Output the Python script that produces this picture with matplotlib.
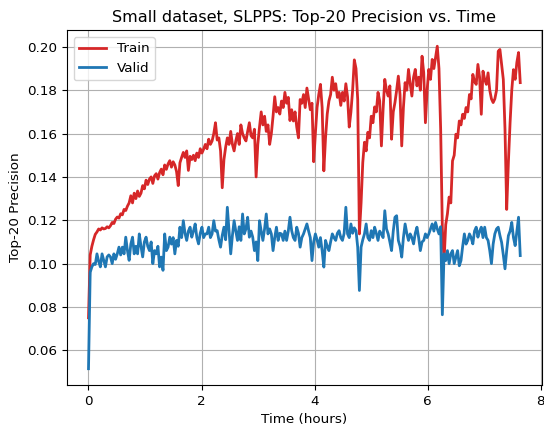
import matplotlib
matplotlib.use("Agg")
import matplotlib.pyplot as plt
import numpy as np

run_hours = 7.64

train_prec = [
    0.075, 0.104, 0.108, 0.111, 0.1135, 0.1146, 0.116, 0.1155, 0.1165, 0.116,
    0.1162, 0.117, 0.1165, 0.1175, 0.119, 0.1185, 0.1205, 0.1215, 0.121, 0.123,
    0.1225, 0.125, 0.1245, 0.1265, 0.128, 0.1313, 0.128, 0.1325, 0.130, 0.1335,
    0.131, 0.1325, 0.136, 0.1345, 0.1385, 0.1365, 0.139, 0.140, 0.137, 0.1405,
    0.1415, 0.139, 0.142, 0.1436, 0.141, 0.1455, 0.1435, 0.146, 0.1475, 0.1445,
    0.147, 0.1455, 0.1425, 0.136, 0.1465, 0.149, 0.1513, 0.149, 0.152, 0.143,
    0.1495, 0.148, 0.150, 0.1475, 0.151, 0.149, 0.153, 0.151, 0.1528, 0.155,
    0.153, 0.1574, 0.155, 0.1566, 0.160, 0.165, 0.157, 0.158, 0.152, 0.135,
    0.148, 0.1537, 0.158, 0.155, 0.161, 0.155, 0.152, 0.1566, 0.160, 0.155,
    0.164, 0.160, 0.158, 0.1566, 0.161, 0.165, 0.159, 0.158, 0.162, 0.140,
    0.155, 0.163, 0.170, 0.164, 0.168, 0.161, 0.164, 0.155, 0.160, 0.168,
    0.177, 0.170, 0.172, 0.169, 0.175, 0.172, 0.179, 0.174, 0.1767, 0.166,
    0.171, 0.1658, 0.170, 0.163, 0.158, 0.1757, 0.174, 0.178, 0.172, 0.181,
    0.176, 0.171, 0.174, 0.147, 0.160, 0.172, 0.178, 0.1827, 0.172, 0.1428,
    0.158, 0.169, 0.175, 0.178, 0.186, 0.180, 0.183, 0.1767, 0.179, 0.173,
    0.179, 0.175, 0.183, 0.177, 0.163, 0.170, 0.180, 0.194, 0.190, 0.1758,
    0.1137, 0.128, 0.1467, 0.156, 0.152, 0.1606, 0.158, 0.168, 0.165, 0.1723,
    0.170, 0.179, 0.175, 0.1543, 0.1712, 0.185, 0.180, 0.1773, 0.182, 0.1574,
    0.170, 0.1743, 0.180, 0.1865, 0.178, 0.1543, 0.172, 0.1835, 0.180, 0.1896,
    0.183, 0.1773, 0.186, 0.1896, 0.182, 0.186, 0.180, 0.1957, 0.188, 0.165,
    0.180, 0.1896, 0.185, 0.1942, 0.190, 0.195, 0.2003, 0.190, 0.162, 0.116,
    0.1014, 0.118, 0.123, 0.1307, 0.128, 0.1474, 0.150, 0.1597, 0.158, 0.1658,
    0.164, 0.1689, 0.167, 0.172, 0.170, 0.178, 0.176, 0.1873, 0.184, 0.1827,
    0.1919, 0.186, 0.1689, 0.1888, 0.185, 0.1827, 0.188, 0.180, 0.176, 0.1743,
    0.176, 0.180, 0.198, 0.1988, 0.192, 0.185, 0.162, 0.125, 0.1467, 0.165,
    0.180, 0.1895, 0.185, 0.1928, 0.1974, 0.1835,
]

valid_prec = [
    0.0515, 0.0960, 0.0985, 0.1000, 0.0996, 0.1045, 0.1010, 0.0985, 0.1045, 0.1015,
    0.0985, 0.1031, 0.1040, 0.1031, 0.1000, 0.1045, 0.1020, 0.1045, 0.1076, 0.1040,
    0.1076, 0.1045, 0.1122, 0.1060, 0.1015, 0.1090, 0.1122, 0.1045, 0.1080, 0.1045,
    0.1137, 0.1080, 0.1031, 0.1100, 0.1122, 0.1080, 0.1060, 0.1100, 0.1000, 0.1060,
    0.1045, 0.1080, 0.0985, 0.1030, 0.0969, 0.1137, 0.1060, 0.1076, 0.1122, 0.1090,
    0.1120, 0.1045, 0.1107, 0.1080, 0.1168, 0.1120, 0.1198, 0.1140, 0.1107, 0.1150,
    0.1168, 0.1122, 0.1150, 0.1183, 0.1120, 0.1091, 0.1140, 0.1168, 0.1120, 0.1137,
    0.1137, 0.1168, 0.1120, 0.1137, 0.1198, 0.1150, 0.1152, 0.1110, 0.1076, 0.1130,
    0.1168, 0.1110, 0.1260, 0.1150, 0.1045, 0.1130, 0.1198, 0.1150, 0.1107, 0.1170,
    0.1107, 0.1229, 0.1137, 0.1160, 0.1214, 0.1122, 0.1150, 0.1122, 0.1060, 0.1100,
    0.1014, 0.1198, 0.1150, 0.1107, 0.1160, 0.1229, 0.1137, 0.1160, 0.1137, 0.1060,
    0.1120, 0.1168, 0.1107, 0.1140, 0.1137, 0.1107, 0.1150, 0.1107, 0.1150, 0.1214,
    0.1152, 0.1120, 0.1107, 0.1168, 0.1140, 0.1076, 0.1120, 0.1137, 0.1160, 0.1183,
    0.1150, 0.1120, 0.1014, 0.1100, 0.1137, 0.1110, 0.1076, 0.1120, 0.1060, 0.0984,
    0.1107, 0.1080, 0.1060, 0.1100, 0.1137, 0.1120, 0.1107, 0.1140, 0.1152, 0.1120,
    0.1107, 0.1140, 0.1260, 0.1137, 0.1120, 0.1183, 0.1140, 0.1165, 0.1152, 0.1076,
    0.0876, 0.1076, 0.1110, 0.1137, 0.1183, 0.1120, 0.1107, 0.1152, 0.1120, 0.1168,
    0.1140, 0.1107, 0.1150, 0.1137, 0.1120, 0.1244, 0.1160, 0.1137, 0.1100, 0.1060,
    0.1150, 0.1214, 0.1221, 0.1107, 0.1080, 0.1030, 0.1120, 0.1183, 0.1140, 0.1107,
    0.1137, 0.1120, 0.1091, 0.1140, 0.1168, 0.1120, 0.1060, 0.1100, 0.1107, 0.1137,
    0.1120, 0.1137, 0.1160, 0.1183, 0.1150, 0.1190, 0.1160, 0.1137, 0.1170, 0.0764,
    0.1045, 0.1014, 0.1060, 0.1000, 0.1045, 0.1060, 0.1000, 0.1030, 0.1060, 0.0990,
    0.1014, 0.1080, 0.1137, 0.1090, 0.1107, 0.1137, 0.1120, 0.1091, 0.1150, 0.1168,
    0.1122, 0.1150, 0.1168, 0.1120, 0.1168, 0.1120, 0.1107, 0.1060, 0.1000, 0.1090,
    0.1137, 0.1160, 0.1168, 0.1130, 0.1098, 0.1040, 0.0976, 0.1060, 0.1129, 0.1150,
    0.1190, 0.1120, 0.1083, 0.1150, 0.1214, 0.1037,
]

train_time = np.linspace(0, run_hours, len(train_prec))
valid_time = np.linspace(0, run_hours, len(valid_prec))

fig = plt.figure(figsize=(5.44, 4.30), dpi=100)
fig.subplots_adjust(left=0.123, right=0.996, bottom=0.105, top=0.930)
ax = fig.add_subplot(111)

ax.plot(train_time, train_prec, color="tab:red", linewidth=2, label="Train")
ax.plot(valid_time, valid_prec, color="tab:blue", linewidth=2, label="Valid")

ax.set_xticks([0, 2, 4, 6, 8])
ax.grid(True, color="#b0b0b0", linewidth=0.8)
ax.set_title("Small dataset, SLPPS: Top-20 Precision vs. Time", fontsize=11.6)
ax.set_xlabel("Time (hours)", fontsize=9.7)
ax.set_ylabel("Top-20 Precision", fontsize=9.7)
ax.tick_params(labelsize=9.7)
ax.legend(loc="upper left", fontsize=9.7)

fig.savefig("out.png", dpi=100)
